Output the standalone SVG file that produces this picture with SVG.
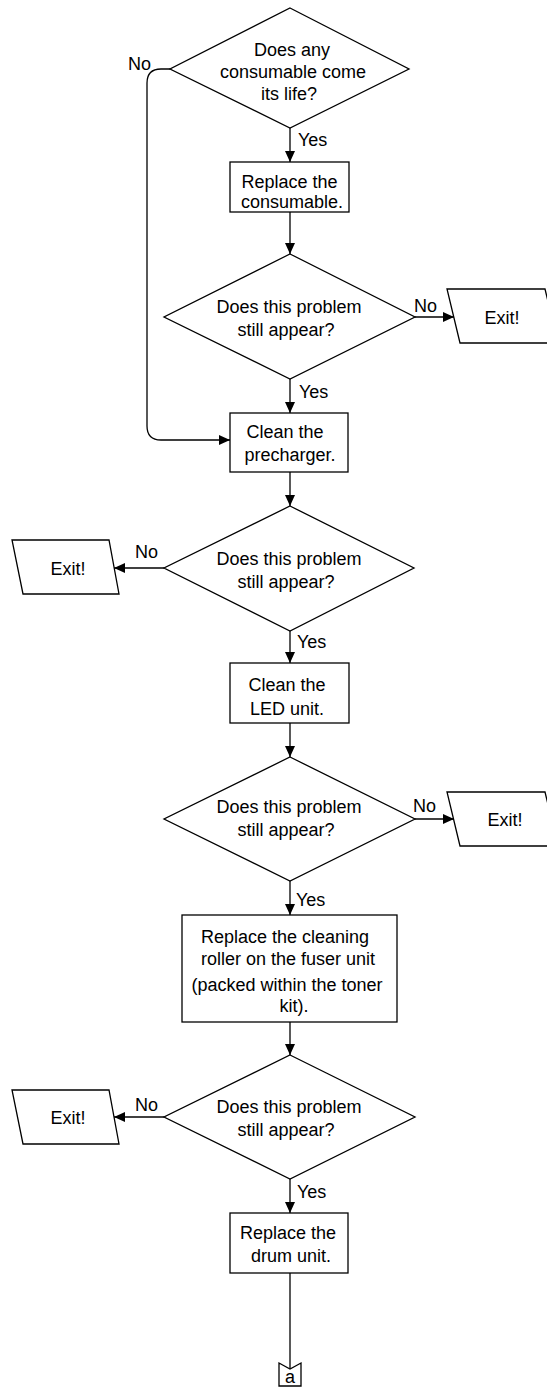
<svg xmlns="http://www.w3.org/2000/svg" width="547" height="1387" viewBox="0 0 547 1387">
<style>
.s{fill:#fff;stroke:#000;stroke-width:1.3}
.c{fill:none;stroke:#000;stroke-width:1.3}
text{font-family:"Liberation Sans",Arial,sans-serif;font-size:18px;fill:#000}
.m{text-anchor:middle}
</style>
<defs>
<marker id="ar" markerUnits="userSpaceOnUse" markerWidth="12" markerHeight="11" refX="11" refY="5" orient="auto">
<path d="M0,0 L11,5 L0,10 z" fill="#000"/>
</marker>
</defs>
<rect width="547" height="1387" fill="#fff"/>
<g id="connectors">
<path class="c" d="M170,69 L161,69 Q147,69 147,83 L147,426 Q147,440 161,440 L230,440" marker-end="url(#ar)"/>
<path class="c" d="M290,128 L290,162" marker-end="url(#ar)"/>
<path class="c" d="M290,212 L290,254" marker-end="url(#ar)"/>
<path class="c" d="M415,317 L454,317" marker-end="url(#ar)"/>
<path class="c" d="M290,379 L290,413" marker-end="url(#ar)"/>
<path class="c" d="M290,472 L290,506" marker-end="url(#ar)"/>
<path class="c" d="M164,568 L114,568" marker-end="url(#ar)"/>
<path class="c" d="M290,631 L290,663" marker-end="url(#ar)"/>
<path class="c" d="M290,723 L290,757" marker-end="url(#ar)"/>
<path class="c" d="M415,819 L454,819" marker-end="url(#ar)"/>
<path class="c" d="M290,881 L290,915" marker-end="url(#ar)"/>
<path class="c" d="M290,1022 L290,1055" marker-end="url(#ar)"/>
<path class="c" d="M164,1117 L114,1117" marker-end="url(#ar)"/>
<path class="c" d="M290,1179 L290,1213" marker-end="url(#ar)"/>
<path class="c" d="M290,1273 L290,1369"/>
<text x="128" y="70">No</text>
<text x="298" y="146">Yes</text>
<text x="414" y="312">No</text>
<text x="299" y="398">Yes</text>
<text x="135" y="558">No</text>
<text x="297" y="648">Yes</text>
<text x="413" y="812">No</text>
<text x="296" y="906">Yes</text>
<text x="135" y="1111">No</text>
<text x="297" y="1198">Yes</text>
</g>
<g id="d1">
<polygon class="s" points="290,8 409,69 290,128 170,69"/>
<text class="m" x="292" y="56">Does any</text>
<text class="m" x="293" y="78">consumable come</text>
<text class="m" x="289" y="100">its life?</text>
</g>
<g id="r1">
<rect class="s" x="230" y="162" width="119" height="50"/>
<text class="m" x="289.5" y="188">Replace the</text>
<text class="m" x="292" y="208">consumable.</text>
</g>
<g id="d2">
<polygon class="s" points="290,254 415,317 290,379 164,317"/>
<text class="m" x="289" y="313">Does this problem</text>
<text class="m" x="286" y="336">still appear?</text>
</g>
<g id="e1">
<polygon class="s" points="447,289 545,289 558,343 460,343"/>
<text class="m" x="502" y="324">Exit!</text>
</g>
<g id="r2">
<rect class="s" x="230" y="413" width="118" height="59"/>
<text class="m" x="285" y="438">Clean the</text>
<text class="m" x="290" y="461">precharger.</text>
</g>
<g id="d3">
<polygon class="s" points="290,506 414,568 290,631 164,568"/>
<text class="m" x="289" y="565">Does this problem</text>
<text class="m" x="286" y="588">still appear?</text>
</g>
<g id="e2">
<polygon class="s" points="12,540 109,540 119,594 23,594"/>
<text class="m" x="68" y="575">Exit!</text>
</g>
<g id="r3">
<rect class="s" x="230" y="663" width="119" height="60"/>
<text class="m" x="287" y="691">Clean the</text>
<text class="m" x="287" y="715">LED unit.</text>
</g>
<g id="d4">
<polygon class="s" points="290,757 415,819 290,881 164,819"/>
<text class="m" x="289" y="813">Does this problem</text>
<text class="m" x="286" y="836">still appear?</text>
</g>
<g id="e3">
<polygon class="s" points="447,792 545,792 558,846 460,846"/>
<text class="m" x="505" y="826">Exit!</text>
</g>
<g id="r4">
<rect class="s" x="182" y="915" width="215" height="107"/>
<text class="m" x="285" y="943">Replace the cleaning</text>
<text class="m" x="288" y="965">roller on the fuser unit</text>
<text class="m" x="287" y="991">(packed within the toner</text>
<text class="m" x="294" y="1012">kit).</text>
</g>
<g id="d5">
<polygon class="s" points="290,1055 415,1117 290,1179 164,1117"/>
<text class="m" x="289" y="1113">Does this problem</text>
<text class="m" x="286" y="1136">still appear?</text>
</g>
<g id="e4">
<polygon class="s" points="12,1090 109,1090 119,1144 23,1144"/>
<text class="m" x="68" y="1124">Exit!</text>
</g>
<g id="r5">
<rect class="s" x="230" y="1213" width="118" height="60"/>
<text class="m" x="288" y="1239">Replace the</text>
<text class="m" x="291" y="1262">drum unit.</text>
</g>
<g id="a">
<polygon class="s" points="279,1363 290,1369 301,1363 301,1386 279,1386"/>
<text class="m" x="290" y="1383">a</text>
</g>
</svg>
